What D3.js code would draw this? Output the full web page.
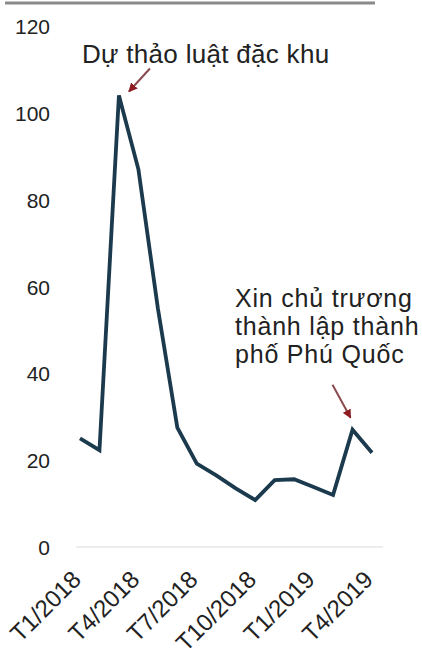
<!DOCTYPE html>
<html><head><meta charset="utf-8">
<script src="https://cdn.jsdelivr.net/npm/d3@7"></script>
<style>body{margin:0;background:#fff}svg{display:block}text{font-family:"Liberation Sans",Arial,sans-serif;fill:#222}</style>
</head><body><svg id="c" width="422" height="657"></svg>
<script>
const months = ["T1/2018","T2/2018","T3/2018","T4/2018","T5/2018","T6/2018","T7/2018","T8/2018","T9/2018","T10/2018","T11/2018","T12/2018","T1/2019","T2/2019","T3/2019","T4/2019"];
const values = [25, 22.3, 104, 87, 55, 27.5, 19.2, 16.5, 13.5, 10.8, 15.4, 15.6, 13.8, 12, 27, 21.7];
const yTicks = [0, 20, 40, 60, 80, 100, 120];
const xTickLabels = ["T1/2018","T4/2018","T7/2018","T10/2018","T1/2019","T4/2019"];
const annotations = [
  {month:"T3/2018", lines:["Dự thảo luật đặc khu"]},
  {month:"T3/2019", lines:["Xin chủ trương","thành lập thành","phố Phú Quốc"]}
];

const svg = d3.select("#c");
const x = d3.scalePoint().domain(months).range([80, 372]);
const y = d3.scaleLinear().domain([0, 120]).range([547, 26]);
const FONT = '"Liberation Sans",Arial,sans-serif';

// top rule
svg.append("line").attr("x1",5).attr("x2",375).attr("y1",3).attr("y2",3)
  .attr("stroke","#8a8a8a").attr("stroke-width",3);

// baseline
svg.append("line").attr("x1",76).attr("x2",383).attr("y1",y(0)).attr("y2",y(0))
  .attr("stroke","#dcdcdc").attr("stroke-width",1.2);

// y axis
const ya = svg.append("g").attr("transform","translate(50,0)")
  .call(d3.axisLeft(y).tickValues(yTicks).tickSize(0).tickPadding(0));
ya.select(".domain").remove();
ya.selectAll("text").attr("font-size",21).attr("fill","#222").attr("dy","0.36em")
  .style("font-family",FONT);

// x axis
const xa = svg.append("g").attr("transform","translate(0,"+y(0)+")")
  .call(d3.axisBottom(x).tickValues(xTickLabels).tickSize(0).tickPadding(0));
xa.select(".domain").remove();
xa.selectAll("text").attr("font-size",24).attr("fill","#222")
  .style("font-family",FONT)
  .attr("text-anchor","end").attr("dy",0)
  .attr("transform","translate(2,34) rotate(-45)");

// line
svg.append("path").datum(values)
  .attr("d", d3.line().x((d,i)=>x(months[i])).y(d=>y(d)))
  .attr("fill","none").attr("stroke","#1b3a4d").attr("stroke-width",3.8)
  .attr("stroke-linejoin","miter");

// arrow marker
const defs = svg.append("defs");
defs.append("marker").attr("id","ah").attr("viewBox","0 0 10 10").attr("refX",9).attr("refY",5)
  .attr("markerWidth",4.5).attr("markerHeight",4.5).attr("orient","auto")
  .append("path").attr("d","M0,0L10,5L0,10z").attr("fill","#8e1b22");

// annotation 1
const a1 = annotations[0];
const p1x = x(a1.month), p1y = y(values[months.indexOf(a1.month)]);
svg.append("text").attr("x",82).attr("y",63).attr("font-size",26)
  .attr("letter-spacing",0.3).text(a1.lines[0]);
svg.append("line").attr("x1",p1x+31).attr("y1",p1y-27).attr("x2",p1x+10).attr("y2",p1y-4)
  .attr("stroke","#8a4a4e").attr("stroke-width",2).attr("marker-end","url(#ah)");

// annotation 2
const a2 = annotations[1];
const p2x = x(a2.month), p2y = y(values[months.indexOf(a2.month)]);
const t2 = svg.append("text").attr("font-size",25).attr("letter-spacing",0.8);
a2.lines.forEach((l,i)=>t2.append("tspan").attr("x",235).attr("y",307+i*28).text(l));
svg.append("line").attr("x1",p2x-20).attr("y1",p2y-45).attr("x2",p2x-2).attr("y2",p2y-12)
  .attr("stroke","#8a4a4e").attr("stroke-width",2).attr("marker-end","url(#ah)");
</script></body></html>
